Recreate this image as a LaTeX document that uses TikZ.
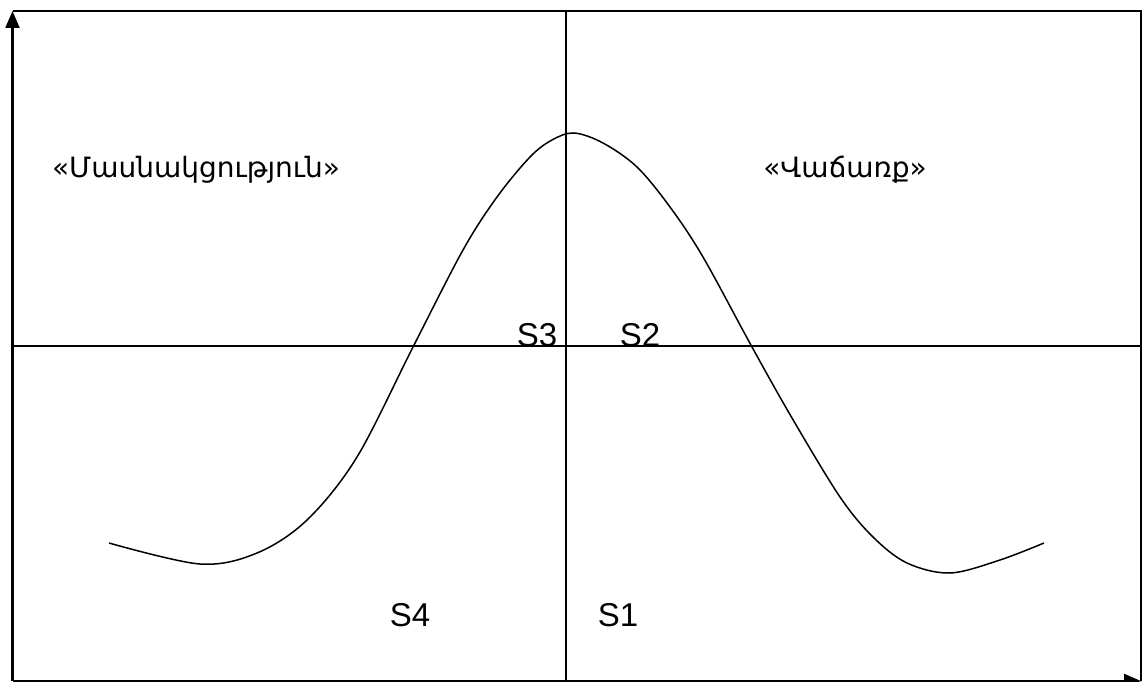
\documentclass[tikz,border=0pt]{standalone}
\usepackage{fontspec}
\setmainfont{Liberation Sans}
\newfontfamily\armfont{DejaVu Sans}
\usepackage{tikz}
\usetikzlibrary{arrows.meta}

\begin{document}
\begin{tikzpicture}[x=1pt, y=-1pt,
    axis/.style={line width=2.2pt, -{Triangle[length=17pt, width=14pt]}},
    frameline/.style={line width=1.8pt},
    quad/.style={line width=1.3pt},
    lbl/.style={inner sep=0pt, font=\fontsize{33}{38}\selectfont},
    zone/.style={inner sep=0pt, font=\armfont\fontsize{28}{32}\selectfont}]
    \useasboundingbox (0,0) rectangle (1143,682);
    % frame corners
    \coordinate (o) at (12.5,681);
    \coordinate (tl) at (12.5,11);
    \coordinate (tr) at (1141,11);
    \coordinate (br) at (1141,681);
    % axes and frame
    \draw[frameline] (tl) -- (tr) -- (br);
    \draw[axis] (o) -- (tl);
    \draw[axis] (o) -- (br);
    % quadrant lines
    \coordinate (vtop) at (566,11);
    \coordinate (vbot) at (566,681);
    \coordinate (hl) at (12.5,346);
    \coordinate (hr) at (1141,346);
    \draw[quad] (vtop) -- (vbot);
    \draw[quad] (hl) -- (hr);
    % the curve
    \draw[line width=1.5pt] plot[smooth, tension=0.55] coordinates {
      (109,543) (200,564) (257,553) (307,520) (357,457) (413,347)
      (463,250) (497,197) (530,157) (552,140) (574,133) (603,143) (637,167)
      (670,207) (703,257) (752,347) (792,418) (840,497) (873,537)
      (907,563) (950,573) (1000,560) (1044,543)};
    % zone names
    \node[zone] (part) at (196,170) {«Մասնակցություն»};
    \node[zone] (sale) at (845,170) {«Վաճառք»};
    % quadrant labels
    \node[lbl, anchor=base] (s3) at (537,346) {S3};
    \node[lbl, anchor=base] (s2) at (640,346) {S2};
    \node[lbl, anchor=base] (s4) at (410,626) {S4};
    \node[lbl, anchor=base] (s1) at (618,626) {S1};
\end{tikzpicture}
\end{document}
